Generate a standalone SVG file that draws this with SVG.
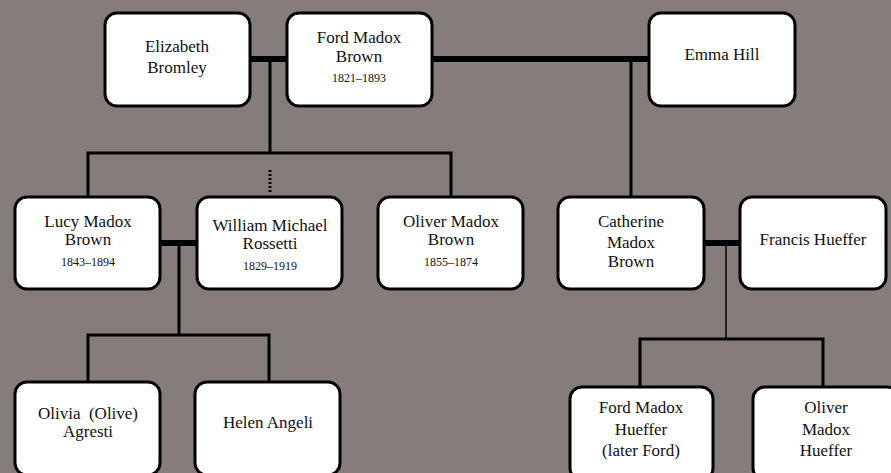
<svg xmlns="http://www.w3.org/2000/svg" width="891" height="473" viewBox="0 0 891 473">
<style>
.box{fill:#fff;stroke:#000;stroke-width:3}
.t{font-family:"Liberation Serif",serif;font-size:17px;fill:#111;text-anchor:middle}
.d{font-family:"Liberation Serif",serif;font-size:12px;fill:#111;text-anchor:middle}
.m{stroke:#000;stroke-width:6;fill:none}
.c{stroke:#000;stroke-width:3;fill:none}
</style>
<rect width="891" height="473" fill="#857d7b"/>
<g id="connectors">
<line class="m" x1="250" y1="59" x2="287" y2="59"/>
<line class="m" x1="432" y1="59" x2="649" y2="59"/>
<line class="c" x1="270" y1="59" x2="270" y2="153"/>
<polyline class="c" points="88,197 88,153 451,153 451,197"/>
<line x1="270" y1="170" x2="270" y2="194" stroke="#000" stroke-width="3" stroke-dasharray="2,2"/>
<line class="c" x1="631" y1="59" x2="631" y2="197"/>
<line class="m" x1="160" y1="243" x2="197" y2="243"/>
<line class="c" x1="179" y1="243" x2="179" y2="335"/>
<polyline class="c" points="88,382 88,335 269,335 269,382"/>
<line class="m" x1="704" y1="243" x2="740" y2="243"/>
<line x1="726" y1="243" x2="726" y2="339" stroke="#000" stroke-width="1.5"/>
<polyline class="c" points="640,387 640,339 823,339 823,387"/>
</g>
<g id="elizabeth"><rect class="box" x="105" y="13" width="145" height="93" rx="12"/><text class="t" x="177" y="52">Elizabeth</text><text class="t" x="177" y="73">Bromley</text></g>
<g id="fordmadoxbrown"><rect class="box" x="287" y="13" width="145" height="93" rx="12"/><text class="t" x="359" y="43">Ford Madox</text><text class="t" x="359" y="62">Brown</text><text class="d" x="359" y="82">1821–1893</text></g>
<g id="emmahill"><rect class="box" x="649" y="13" width="146" height="93" rx="12"/><text class="t" x="722" y="60">Emma Hill</text></g>
<g id="lucy"><rect class="box" x="15" y="197" width="145" height="92" rx="12"/><text class="t" x="88" y="227">Lucy Madox</text><text class="t" x="88" y="245">Brown</text><text class="d" x="88" y="266">1843–1894</text></g>
<g id="william"><rect class="box" x="197" y="197" width="145" height="92" rx="12"/><text class="t" x="270" y="231">William Michael</text><text class="t" x="270" y="249">Rossetti</text><text class="d" x="270" y="270">1829–1919</text></g>
<g id="oliverbrown"><rect class="box" x="378" y="197" width="145" height="92" rx="12"/><text class="t" x="451" y="227">Oliver Madox</text><text class="t" x="451" y="245">Brown</text><text class="d" x="451" y="266">1855–1874</text></g>
<g id="catherine"><rect class="box" x="558" y="197" width="146" height="92" rx="12"/><text class="t" x="631" y="227">Catherine</text><text class="t" x="631" y="248">Madox</text><text class="t" x="631" y="267">Brown</text></g>
<g id="francis"><rect class="box" x="740" y="197" width="146" height="92" rx="12"/><text class="t" x="813" y="245">Francis Hueffer</text></g>
<g id="olivia"><rect class="box" x="15" y="382" width="145" height="93" rx="12"/><text class="t" x="88" y="419" style="white-space:pre">Olivia  (Olive)</text><text class="t" x="88" y="437">Agresti</text></g>
<g id="helen"><rect class="box" x="195" y="382" width="145" height="93" rx="12"/><text class="t" x="268" y="428">Helen Angeli</text></g>
<g id="fordhueffer"><rect class="box" x="570" y="387" width="143" height="93" rx="12"/><text class="t" x="641" y="413">Ford Madox</text><text class="t" x="641" y="435">Hueffer</text><text class="t" x="641" y="456">(later Ford)</text></g>
<g id="oliverhueffer"><rect class="box" x="753" y="387" width="146" height="93" rx="12"/><text class="t" x="826" y="413">Oliver</text><text class="t" x="826" y="435">Madox</text><text class="t" x="826" y="456">Hueffer</text></g>
</svg>
